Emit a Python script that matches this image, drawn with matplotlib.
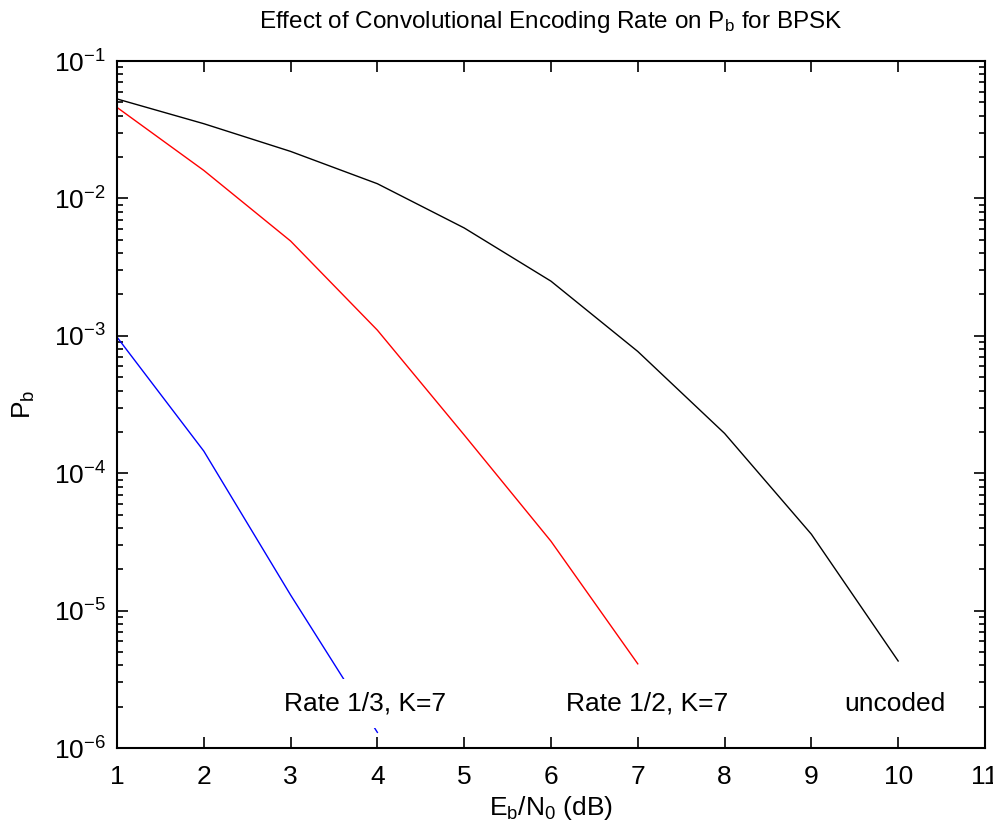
import matplotlib.pyplot as plt
import numpy as np

plt.rcParams['font.family'] = ['Liberation Sans', 'DejaVu Sans']
plt.rcParams['mathtext.default'] = 'regular'

# Eb/N0 (dB) and bit error probability
ebno_uncoded = [1, 2, 3, 4, 5, 6, 7, 8, 9, 10]
pb_uncoded = [0.053, 0.035, 0.022, 0.0128, 0.0061, 0.0025, 7.7e-4, 1.95e-4, 3.6e-5, 4.3e-6]

ebno_half = [1, 2, 3, 4, 5, 6, 7]
pb_half = [0.046, 0.016, 0.0049, 1.1e-3, 1.9e-4, 3.2e-5, 4.1e-6]

ebno_third = [1, 2, 3, 4]
pb_third = [9.8e-4, 1.45e-4, 1.3e-5, 1.3e-6]

labels = ['Rate 1/3, K=7', 'Rate 1/2, K=7', 'uncoded']
label_x = [2.92, 6.17, 9.38]
label_y = [2.1e-6, 2.1e-6, 2.1e-6]

fig = plt.figure(figsize=(9.93, 8.25), dpi=100)
ax = fig.add_axes([0.1178, 0.0933, 0.8741, 0.8327])

ax.semilogy(ebno_third, pb_third, color='blue', lw=1)
ax.semilogy(ebno_half, pb_half, color='red', lw=1)
ax.semilogy(ebno_uncoded, pb_uncoded, color='black', lw=1)

# labels sit on a white box, hiding the end of the blue curve as in the original
for txt, tx, ty in zip(labels, label_x, label_y):
    ax.text(tx, ty, txt, fontsize=19, va='center', ha='left', zorder=5,
            bbox=dict(facecolor='white', edgecolor='none', pad=9))

ax.set_xlim(1, 11)
ax.set_ylim(1e-6, 1e-1)
ax.set_xticks(np.arange(1, 12))

ax.tick_params(which='both', direction='in', top=True, right=True, labelsize=19)
ax.tick_params(which='major', length=8, width=1.2)
ax.tick_params(which='minor', length=4, width=1.2)
ax.tick_params(axis='x', pad=12)
ax.tick_params(axis='y', pad=8)
for s in ax.spines.values():
    s.set_linewidth(1.5)

ax.set_title('Effect of Convolutional Encoding Rate on $P_b$ for BPSK', fontsize=17.5, pad=24)
ax.set_xlabel('$E_b/N_0$ (dB)', fontsize=19, labelpad=4)
ax.set_ylabel('$P_b$', fontsize=19, labelpad=12)

fig.savefig('out.png', dpi=100)
